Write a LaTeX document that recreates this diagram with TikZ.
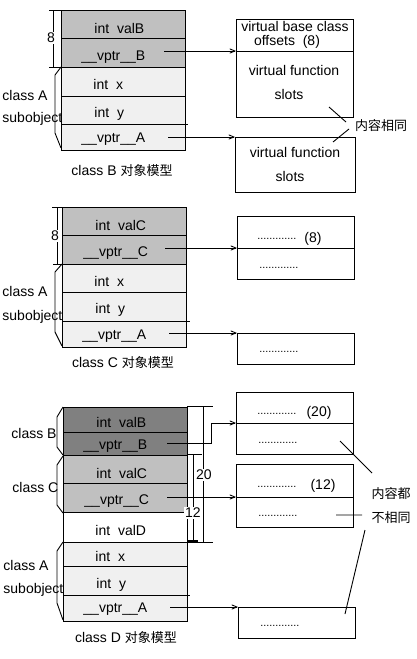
\documentclass[tikz,border=0pt]{standalone}
\usepackage{fontspec}
\setmainfont{Liberation Sans}
\newfontfamily\cjk{Noto Sans CJK SC}
\newcommand{\zh}[1]{{\cjk\fontsize{13}{15}\selectfont #1}}
\usetikzlibrary{arrows,positioning}
\definecolor{objdark}{HTML}{808080}
\definecolor{objgray}{HTML}{C0C0C0}
\definecolor{objlight}{HTML}{F0F0F0}
\tikzset{
    cell/.style={
        rectangle,
        draw=black,
        anchor=north west,
        minimum width=124pt,
        inner sep=0pt,
    },
    vtbl/.style={
        rectangle,
        draw=black,
        anchor=north west,
        minimum width=117pt,
        inner sep=0pt,
    },
    field/.style={
        anchor=west,
        inner sep=0pt,
        font=\fontsize{14}{16}\selectfont,
    },
    note/.style={
        inner sep=0pt,
        font=\fontsize{14}{16}\selectfont,
    },
    dots/.style={
        anchor=base west,
        inner sep=0pt,
        font=\fontsize{10.8}{12}\selectfont,
    },
    cjknote/.style={
        inner sep=0pt,
        font=\cjk\fontsize{13}{15}\selectfont,
    },
    dim/.style={
        fill=white,
        inner sep=1pt,
        font=\fontsize{14}{16}\selectfont,
    },
    ptr/.style={
        draw,
        ->,>=angle 45,
    },
}

\begin{document}
\begin{tikzpicture}[x=1pt,y=-1pt,line width=0.9pt]
\useasboundingbox (0,0) rectangle (417,659);
% class B
\node [cell,fill=objgray,minimum height=28pt] (B1) at (61,10) {};
\node [cell,fill=objgray,minimum height=29pt] (B2) at (61,38) {};
\node [cell,fill=objlight,minimum height=29pt] (B3) at (61,67) {};
\node [cell,fill=objlight,minimum height=28pt] (B4) at (61,96) {};
\node [cell,fill=objlight,minimum height=26pt] (B5) at (61,124) {};
\node [field] (B1t) at (94,28) {int~~valB};
\node [field] (B2t) at (81,57) {\_\_vptr\_\_B};
\node [field] (B3t) at (93,84) {int~~x};
\node [field] (B4t) at (94,114) {int~~y};
\node [field] (B5t) at (81,139) {\_\_vptr\_\_A};
\draw (B5.north east) -- ++(2,0);
\draw (49,10) -- (61,10) (49,67) -- (61,67) (53,10) -- (53,67);
\node [dim] (B8) at (51,38) {8};
\draw (61,67) -- (55,75) -- (55,133) -- (61,148);
\node [field] (BA1) at (2,95) {class A};
\node [field] (BA2) at (2,119) {subobject};
\node [note] (capB) at (122,171) {class B \zh{对象模型}};
\node [vtbl,minimum height=32pt] (VBoff) at (236,19) {};
\node [vtbl,minimum height=66pt] (VBfun) at (236,51) {};
\node [vtbl,minimum width=120pt,minimum height=55pt] (VAfun) at (235,137) {};
\node [note] (VBt1) at (295,26) {virtual base class};
\node [note] (VBt2) at (287,42) {offsets~~(8)};
\node [note] (VBt3) at (294,70) {virtual function};
\node [note] (VBt4) at (289,94) {slots};
\node [note] (VAt1) at (295,152) {virtual function};
\node [note] (VAt2) at (290,176) {slots};
\coordinate (pB) at (164,51);
\coordinate (pBA) at (168,137);
\draw [ptr] (pB) -- (VBfun.north west);
\draw [ptr] (pBA) -- (VAfun.north west);
\node [cjknote] (same) at (381,126) {内容相同};
\draw (329,107) -- (346,122) (349,129) -- (333,142);
% class C
\node [cell,fill=objgray,minimum height=28pt] (C1) at (62,207) {};
\node [cell,fill=objgray,minimum height=29pt] (C2) at (62,235) {};
\node [cell,fill=objlight,minimum height=28pt] (C3) at (62,264) {};
\node [cell,fill=objlight,minimum height=29pt] (C4) at (62,292) {};
\node [cell,fill=objlight,minimum height=26pt] (C5) at (62,321) {};
\node [field] (C1t) at (95,225) {int~~valC};
\node [field] (C2t) at (83,253) {\_\_vptr\_\_C};
\node [field] (C3t) at (94,281) {int~~x};
\node [field] (C4t) at (95,310) {int~~y};
\node [field] (C5t) at (82,336) {\_\_vptr\_\_A};
\draw (C5.north east) -- ++(3,0);
\draw (52,207) -- (62,207) (53,264) -- (62,264) (57,207) -- (57,264);
\node [dim] (C8) at (55,236) {8};
\draw (62,264) -- (55,272) -- (55,332) -- (62,346);
\node [field] (CA1) at (2,291) {class A};
\node [field] (CA2) at (2,317) {subobject};
\node [note] (capC) at (123,363) {class C \zh{对象模型}};
\node [vtbl,minimum height=32pt] (VCoff) at (237,216) {};
\node [vtbl,minimum height=31pt] (VCfun) at (237,248) {};
\node [vtbl,minimum height=31pt] (VCA) at (237,333) {};
\node [dots] (VCt1) at (257,239) {.............};
\node [note] (VCt2) at (313,239) {(8)};
\node [dots] (VCt3) at (259,268) {.............};
\node [dots] (VCt4) at (259,352) {.............};
\coordinate (pC) at (165,248);
\coordinate (pCA) at (169,333);
\draw [ptr] (pC) -- (VCfun.north west);
\draw [ptr] (pCA) -- (VCA.north west);
% class D
\node [cell,fill=objdark,minimum height=25pt] (D1) at (63,407) {};
\node [cell,fill=objdark,minimum height=23pt] (D2) at (63,432) {};
\node [cell,fill=objgray,minimum height=28pt] (D3) at (63,455) {};
\node [cell,fill=objgray,minimum height=29pt] (D4) at (63,483) {};
\node [cell,fill=white,minimum height=30pt] (D5) at (63,512) {};
\node [cell,fill=objlight,minimum height=24pt] (D6) at (63,542) {};
\node [cell,fill=objlight,minimum height=29pt] (D7) at (63,566) {};
\node [cell,fill=objlight,minimum height=26pt] (D8) at (63,595) {};
\node [field] (D1t) at (96,422) {int~~valB};
\node [field] (D2t) at (83,446) {\_\_vptr\_\_B};
\node [field] (D3t) at (96,473) {int~~valC};
\node [field] (D4t) at (84,501) {\_\_vptr\_\_C};
\node [field] (D5t) at (95,530) {int~~valD};
\node [field] (D6t) at (95,556) {int~~x};
\node [field] (D7t) at (96,585) {int~~y};
\node [field] (D8t) at (83,609) {\_\_vptr\_\_A};
\draw (D8.north east) -- ++(2,0);
\draw (63,407) -- (57,417) -- (57,447) -- (63,455);
\draw (63,456) -- (57,465) -- (57,505) -- (63,513);
\draw (63,542) -- (57,551) -- (57,603) -- (63,620);
\node [field] (DB) at (11,433) {class B};
\node [field] (DC) at (12,487) {class C};
\node [field] (DA1) at (3,565) {class A};
\node [field] (DA2) at (3,590) {subobject};
\node [note] (capD) at (126,638) {class D \zh{对象模型}};
\draw (187,406) -- (213,406) (203,406) -- (203,542) (187,542) -- (213,542);
\draw (187,454) -- (202,454) (193,454) -- (193,542);
\draw [line width=1.8pt] (188,541) -- (198,541);
\node [dim] (D20) at (204,475) {20};
\node [dim] (D12) at (193,513) {12};
\node [vtbl,minimum height=31pt] (VDBoff) at (236,392) {};
\node [vtbl,minimum height=31pt] (VDBfun) at (236,423) {};
\node [vtbl,minimum height=33pt] (VDCoff) at (236,464) {};
\node [vtbl,minimum height=30pt] (VDCfun) at (236,497) {};
\node [vtbl,minimum height=31pt] (VDA) at (238,607) {};
\node [dots] (VDt1) at (257,414) {.............};
\node [note] (VDt2) at (319,413) {(20)};
\node [dots] (VDt3) at (258,443) {.............};
\node [dots] (VDt4) at (257,487) {.............};
\node [note] (VDt5) at (323,486) {(12)};
\node [dots] (VDt6) at (258,516) {.............};
\node [dots] (VDt7) at (260,626) {.............};
\coordinate (pDB) at (167,443);
\coordinate (pDC) at (167,497);
\coordinate (pDA) at (170,607);
\draw [ptr] (pDB) -- ++(44,0) |- (VDBfun.north west);
\draw [ptr] (pDC) -- (VDCfun.north west);
\draw [ptr] (pDA) -- (VDA.north west);
\node [cjknote] (diff1) at (391,494) {内容都};
\node [cjknote] (diff2) at (391,518) {不相同};
\draw (340,441) -- (372,473) (336,515) -- (362,515) (365,530) -- (345,614);
\end{tikzpicture}
\end{document}
